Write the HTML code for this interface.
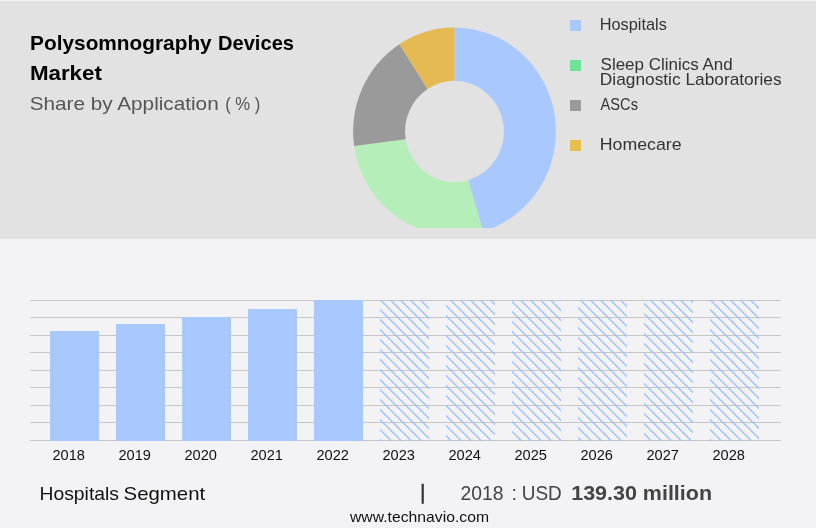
<!DOCTYPE html>
<html><head><meta charset="utf-8"><title>Polysomnography Devices Market</title>
<style>
html,body{margin:0;padding:0;background:#f3f3f5;}
body{width:816px;height:528px;overflow:hidden;position:relative;font-family:"Liberation Sans",sans-serif;}
svg{position:absolute;left:0;top:0;display:block}
text{font-family:"Liberation Sans",sans-serif;}
.t{font-weight:bold;font-size:20.2px;fill:#000}
.s{font-size:18.6px;fill:#555}
.l{font-size:16.2px;fill:#333}
.y{font-size:15.5px;fill:#111}
.f{font-size:19px;fill:#111}
.v{font-size:19.5px;fill:#444}
.w{font-size:14.6px;fill:#111}
</style></head><body>
<svg width="816" height="528" viewBox="0 0 816 528">
<defs>
<clipPath id="hc"><rect x="380" y="300" width="49" height="141"/><rect x="446" y="300" width="49" height="141"/><rect x="512" y="300" width="49" height="141"/><rect x="578" y="300" width="49" height="141"/><rect x="644" y="300" width="49" height="141"/><rect x="710" y="300" width="49" height="141"/></clipPath>
<clipPath id="c"><rect x="340" y="0" width="240" height="228"/></clipPath>
</defs>
<rect x="0" y="0" width="816" height="528" fill="#f3f3f5"/>
<rect x="0" y="1" width="816" height="238" fill="#e2e2e2"/>
<g clip-path="url(#c)">
<path d="M454.50 27.50A101.4 104.0 0 0 1 482.96 231.32L468.36 180.16A49.4 50.7 0 0 0 454.50 80.80Z" fill="#a8c8fe"/>
<path d="M482.96 231.32A101.4 104.0 0 0 1 354.09 145.97L405.67 139.17A49.4 50.7 0 0 0 468.36 180.16Z" fill="#b6eeb9"/>
<path d="M354.09 145.97A101.4 104.0 0 0 1 399.42 44.18L427.67 88.93A49.4 50.7 0 0 0 405.67 139.17Z" fill="#9a9a9a"/>
<path d="M399.42 44.18A101.4 104.0 0 0 1 454.50 27.50L454.50 80.80A49.4 50.7 0 0 0 427.67 88.93Z" fill="#e6ba52"/>
</g>
<text class="t" y="49.7"><tspan x="30.1" textLength="181.6" lengthAdjust="spacingAndGlyphs">Polysomnography</tspan> <tspan x="218" textLength="76" lengthAdjust="spacingAndGlyphs">Devices</tspan></text>
<text class="t" x="29.9" y="80" textLength="72" lengthAdjust="spacingAndGlyphs">Market</text>
<text class="s" y="109.8"><tspan x="29.7" textLength="189" lengthAdjust="spacingAndGlyphs">Share by Application</tspan> <tspan x="225.2" textLength="35.2" lengthAdjust="spacingAndGlyphs">( % )</tspan></text>
<rect x="570" y="20" width="11" height="11" fill="#a8c8fe"/>
<rect x="570" y="60" width="11" height="11" fill="#6fe398"/>
<rect x="570" y="100" width="11" height="11" fill="#9a9a9a"/>
<rect x="570" y="140" width="11" height="11" fill="#e6c04e"/>
<text class="l" x="599.8" y="30" textLength="67" lengthAdjust="spacingAndGlyphs">Hospitals</text>
<text class="l" x="600.6" y="69.8" textLength="132" lengthAdjust="spacingAndGlyphs">Sleep Clinics And</text>
<text class="l" x="599.8" y="85" textLength="181.8" lengthAdjust="spacingAndGlyphs">Diagnostic Laboratories</text>
<text class="l" x="600.6" y="109.5" textLength="37.4" lengthAdjust="spacingAndGlyphs">ASCs</text>
<text class="l" x="599.8" y="149.8" textLength="81.8" lengthAdjust="spacingAndGlyphs">Homecare</text>
<rect x="30" y="300" width="751" height="1" fill="#c6c6c6"/>
<rect x="30" y="317" width="751" height="1" fill="#c6c6c6"/>
<rect x="30" y="335" width="751" height="1" fill="#c6c6c6"/>
<rect x="30" y="352" width="751" height="1" fill="#c6c6c6"/>
<rect x="30" y="370" width="751" height="1" fill="#c6c6c6"/>
<rect x="30" y="387" width="751" height="1" fill="#c6c6c6"/>
<rect x="30" y="405" width="751" height="1" fill="#c6c6c6"/>
<rect x="30" y="422" width="751" height="1" fill="#c6c6c6"/>
<rect x="30" y="440" width="751" height="1" fill="#c6c6c6"/>
<rect x="50" y="331" width="49" height="110" fill="#a8c8fe"/>
<rect x="116" y="324" width="49" height="117" fill="#a8c8fe"/>
<rect x="182" y="317" width="49" height="124" fill="#a8c8fe"/>
<rect x="248" y="309" width="49" height="132" fill="#a8c8fe"/>
<rect x="314" y="300" width="49" height="141" fill="#a8c8fe"/>
<path clip-path="url(#hc)" d="M768.5 298L913.5 443M758.5 298L903.5 443M748.5 298L893.5 443M738.5 298L883.5 443M728.5 298L873.5 443M718.5 298L863.5 443M708.5 298L853.5 443M698.5 298L843.5 443M688.5 298L833.5 443M678.5 298L823.5 443M668.5 298L813.5 443M658.5 298L803.5 443M648.5 298L793.5 443M638.5 298L783.5 443M628.5 298L773.5 443M618.5 298L763.5 443M608.5 298L753.5 443M598.5 298L743.5 443M588.5 298L733.5 443M578.5 298L723.5 443M568.5 298L713.5 443M558.5 298L703.5 443M548.5 298L693.5 443M538.5 298L683.5 443M528.5 298L673.5 443M518.5 298L663.5 443M508.5 298L653.5 443M498.5 298L643.5 443M488.5 298L633.5 443M478.5 298L623.5 443M468.5 298L613.5 443M458.5 298L603.5 443M448.5 298L593.5 443M438.5 298L583.5 443M428.5 298L573.5 443M418.5 298L563.5 443M408.5 298L553.5 443M398.5 298L543.5 443M388.5 298L533.5 443M378.5 298L523.5 443M368.5 298L513.5 443M358.5 298L503.5 443M348.5 298L493.5 443M338.5 298L483.5 443M328.5 298L473.5 443M318.5 298L463.5 443M308.5 298L453.5 443M298.5 298L443.5 443M288.5 298L433.5 443M278.5 298L423.5 443M268.5 298L413.5 443M258.5 298L403.5 443M248.5 298L393.5 443M238.5 298L383.5 443M228.5 298L373.5 443" stroke="#9dc1ff" stroke-width="1.414" fill="none"/>
<g class="y">
<text x="52.5" y="460" textLength="32.5" lengthAdjust="spacingAndGlyphs">2018</text>
<text x="118.5" y="460" textLength="32.5" lengthAdjust="spacingAndGlyphs">2019</text>
<text x="184.5" y="460" textLength="32.5" lengthAdjust="spacingAndGlyphs">2020</text>
<text x="250.5" y="460" textLength="32.5" lengthAdjust="spacingAndGlyphs">2021</text>
<text x="316.5" y="460" textLength="32.5" lengthAdjust="spacingAndGlyphs">2022</text>
<text x="382.5" y="460" textLength="32.5" lengthAdjust="spacingAndGlyphs">2023</text>
<text x="448.5" y="460" textLength="32.5" lengthAdjust="spacingAndGlyphs">2024</text>
<text x="514.5" y="460" textLength="32.5" lengthAdjust="spacingAndGlyphs">2025</text>
<text x="580.5" y="460" textLength="32.5" lengthAdjust="spacingAndGlyphs">2026</text>
<text x="646.5" y="460" textLength="32.5" lengthAdjust="spacingAndGlyphs">2027</text>
<text x="712.5" y="460" textLength="32.5" lengthAdjust="spacingAndGlyphs">2028</text>
</g>
<text class="f" y="500"><tspan x="39.5" textLength="79.5" lengthAdjust="spacingAndGlyphs">Hospitals</tspan> <tspan x="123.6" textLength="81.6" lengthAdjust="spacingAndGlyphs">Segment</tspan></text>
<rect x="421.6" y="483.75" width="2.2" height="20" fill="#333"/>
<text class="v" y="499.5"><tspan x="460.6" textLength="43" lengthAdjust="spacingAndGlyphs">2018</tspan><tspan x="511.6">:</tspan><tspan x="521.8" textLength="40" lengthAdjust="spacingAndGlyphs">USD</tspan></text>
<text class="v" x="571.25" y="499.5" textLength="140.75" lengthAdjust="spacingAndGlyphs" font-weight="bold">139.30 million</text>
<text class="w" x="350" y="521.75" textLength="139" lengthAdjust="spacingAndGlyphs">www.technavio.com</text>
</svg>
</body></html>
